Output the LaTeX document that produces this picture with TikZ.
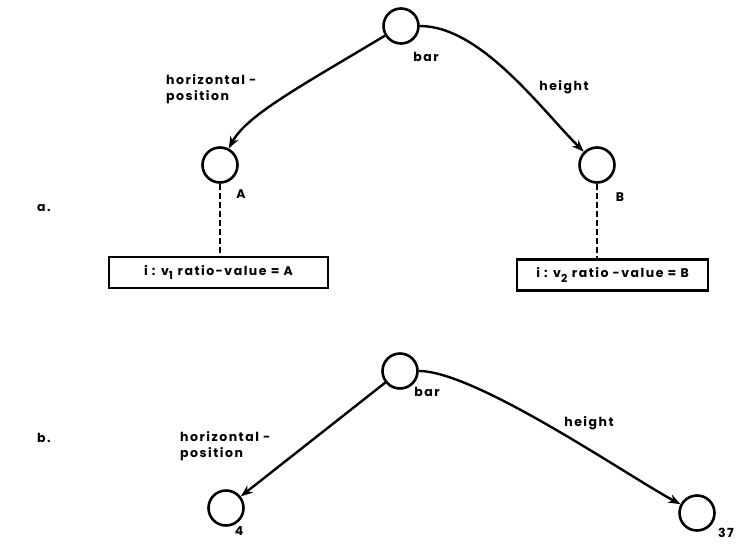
\documentclass[tikz,border=0pt]{standalone}
\usepackage{fontspec}
\newfontfamily\lblfont[LetterSpace=12]{Poppins}
\usetikzlibrary{arrows.meta}
\begin{document}
\begin{tikzpicture}[x=1pt,y=1pt,
  vert/.style={circle,draw,line width=2.6pt,minimum size=35pt,inner sep=0pt},
  lbl/.style={font=\lblfont\bfseries\fontsize{12.5}{16}\selectfont,inner sep=0pt,align=left},
  arc/.style={line width=2.4pt,-{Stealth[length=12pt,width=9pt]}},
  dashlink/.style={line width=2.6pt,dash pattern=on 6pt off 3pt},
  valbox/.style={draw,line width=2.6pt,inner xsep=4pt,minimum height=31pt,font=\lblfont\bfseries\fontsize{12.5}{15}\selectfont}]
\useasboundingbox (0,0) rectangle (738,-543);
% part a
\node[vert] (bar1) at (401,-26) {};
\node[vert] (A) at (220,-165) {};
\node[vert] (B) at (597,-165) {};
\node[lbl] (barl1) at (426,-57) {bar};
\node[lbl] (Al) at (241,-194) {A};
\node[lbl] (Bl) at (620,-197) {B};
\node[lbl,anchor=west] (hp1) at (166,-89) {horizontal -\\position};
\node[lbl] (ht1) at (564,-87) {height};
\node[lbl] (la) at (44,-208) {a.};
\node[valbox,minimum width=219pt] (box1) at (218.5,-272.5) {i : v\textsubscript{\fontsize{11}{12}\selectfont 1} ratio-value = A};
\node[valbox,minimum width=191pt] (box2) at (612.5,-275) {i : v\textsubscript{\fontsize{11}{12}\selectfont 2} ratio -value = B};
\draw[arc] (bar1) to[out=211,in=62,out looseness=1.3,in looseness=0.5] (A);
\draw[arc] (bar1) to[out=0,in=135,looseness=0.75] (B);
\draw[dashlink] (A.south) -- (A.south |- box1.north);
\draw[dashlink] (B.south) -- (B.south |- box2.north);
% part b
\node[vert] (bar2) at (400,-371) {};
\node[vert] (n4) at (226,-508) {};
\node[vert] (n37) at (697,-513) {};
\node[lbl] (barl2) at (427,-392) {bar};
\node[lbl] (l4) at (239,-531) {4};
\node[lbl] (l37) at (726,-533) {37};
\node[lbl,anchor=west] (hp2) at (180,-446) {horizontal -\\position};
\node[lbl] (ht2) at (589,-423) {height};
\node[lbl] (lb) at (44,-438) {b.};
\draw[arc] (bar2) -- (n4);
\draw[arc] (bar2) to[out=0,in=152,looseness=0.5] (n37);
\end{tikzpicture}
\end{document}
